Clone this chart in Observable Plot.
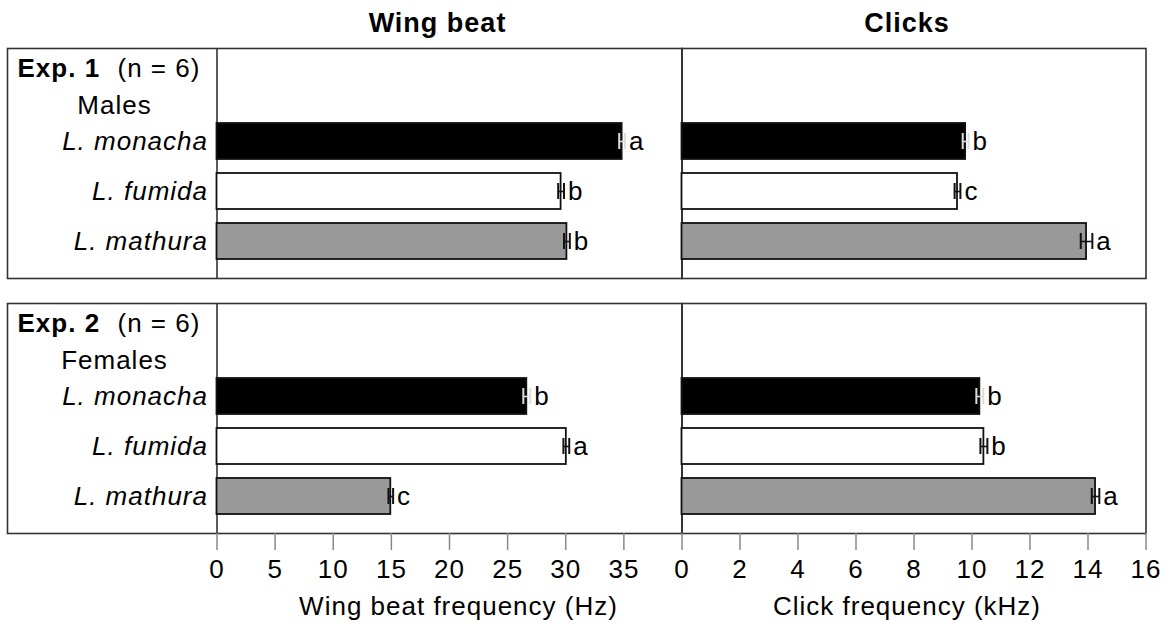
<!DOCTYPE html>
<html><head><meta charset="utf-8">
<script src="https://cdn.jsdelivr.net/npm/d3@7"></script>
<script src="https://cdn.jsdelivr.net/npm/@observablehq/plot@0.6"></script>
<style>
body{margin:0;background:#fff;}
#wrap{position:relative;width:1169px;height:629px;overflow:hidden;}
#wrap svg{position:absolute;top:0;}
</style></head><body><div id="wrap"></div>
<script>
// ---- data ----
const experiments = ["Exp. 1", "Exp. 2"];
const nLabels = ["(n = 6)", "(n = 6)"];
const sexes = ["Males", "Females"];
const species = ["L. monacha", "L. fumida", "L. mathura"];
const wingMean = [[34.85, 29.6, 30.1], [26.65, 30.05, 14.95]];
const wingSE = [[0.25, 0.25, 0.25], [0.3, 0.25, 0.2]];
const wingLetters = [["a", "b", "b"], ["b", "a", "c"]];
const clickMean = [[9.78, 9.5, 13.95], [10.27, 10.41, 14.26]];
const clickSE = [[0.1, 0.1, 0.2], [0.12, 0.12, 0.13]];
const clickLetters = [["b", "c", "a"], ["b", "b", "a"]];
const wingTicks = [0, 5, 10, 15, 20, 25, 30, 35];
const clickTicks = [0, 2, 4, 6, 8, 10, 12, 14, 16];
const panelTitles = ["Wing beat", "Clicks"];
const axisLabels = ["Wing beat frequency (Hz)", "Click frequency (kHz)"];

function rows(means, ses, letters) {
  const out = [];
  experiments.forEach((e, i) => species.forEach((s, j) =>
    out.push({exp: e, species: s, value: means[i][j], se: ses[i][j], letter: letters[i][j]})));
  return out;
}
const wingData = rows(wingMean, wingSE, wingLetters);
const clickData = rows(clickMean, clickSE, clickLetters);
const headData = experiments.map((e, i) => ({exp: e, n: nLabels[i], sex: sexes[i]}));

const FONT = "Liberation Sans, Arial, Helvetica, sans-serif";
const FS = 26;

function panel({data, domain, ticks, title, axisLabel, width, marginLeft, marginRight, left, titleDx, labelDx, withLabels}) {
  const dark = data.filter(d => d.species === species[0]);
  const light = data.filter(d => d.species !== species[0]);
  const errMarks = (arr, color) => [
    Plot.ruleY(arr, {y: "species", fy: "exp", x1: d => d.value - d.se, x2: d => d.value + d.se, stroke: color, strokeWidth: 1.6}),
    Plot.tickX(arr, {y: "species", fy: "exp", x: d => d.value - d.se, stroke: color, strokeWidth: 2, insetTop: 10, insetBottom: 10}),
    Plot.tickX(arr, {y: "species", fy: "exp", x: d => d.value + d.se, stroke: color, strokeWidth: 2, insetTop: 10, insetBottom: 10})
  ];
  const marks = [
    Plot.frame({stroke: "#333", strokeWidth: 1.6, insetLeft: withLabels ? -(marginLeft - 7) : 0}),
    Plot.ruleX([0], {stroke: "#333", strokeWidth: 1.6}),
    Plot.barX(data, {y: "species", fy: "exp", x: "value", fill: "species", stroke: "#111", strokeWidth: 1.8}),
    ...errMarks(dark, "#ddd"),
    ...errMarks(light, "#111"),
    Plot.text(data, {y: "species", fy: "exp", x: d => d.value + d.se, text: "letter", textAnchor: "start", dx: 4, fontSize: FS, fill: "#000"}),
    Plot.axisX({ticks, tickSize: 17, tickPadding: 9, fontSize: FS, stroke: "#888", strokeWidth: 1.5, label: null, tickFormat: d => String(d)}),
    Plot.text([{exp: experiments[0], t: title}], {fy: "exp", text: "t", frameAnchor: "top", lineAnchor: "middle", dy: -25, dx: titleDx, fontSize: 27, fontWeight: "bold"}),
    Plot.text([{exp: experiments[1], t: axisLabel}], {fy: "exp", text: "t", frameAnchor: "bottom", lineAnchor: "middle", dy: 73, dx: labelDx, fontSize: FS})
  ];
  if (withLabels) {
    marks.push(
      Plot.axisY({tickSize: 0, tickPadding: 9, fontSize: FS, fontStyle: "italic", label: null}),
      Plot.text(headData, {fy: "exp", text: "exp", frameAnchor: "top-left", lineAnchor: "middle", textAnchor: "start", dx: 17 - marginLeft, dy: 20, fontSize: FS, fontWeight: "bold"}),
      Plot.text(headData, {fy: "exp", text: "n", frameAnchor: "top-left", lineAnchor: "middle", textAnchor: "start", dx: 117 - marginLeft, dy: 20, fontSize: FS}),
      Plot.text(headData, {fy: "exp", text: "sex", frameAnchor: "top-left", lineAnchor: "middle", textAnchor: "middle", dx: 114 - marginLeft, dy: 57, fontSize: FS})
    );
  }
  const svg = Plot.plot({
    width, height: 629,
    marginTop: 48, marginBottom: 95, marginLeft, marginRight,
    style: {background: "none", overflow: "visible", fontFamily: FONT, fontSize: FS + "px", color: "#000", letterSpacing: "1px"},
    x: {domain, axis: null},
    y: {domain: species, paddingInner: 0.28, paddingOuter: 0.935, align: 0.8, axis: null},
    fy: {domain: experiments, paddingInner: 0.098, paddingOuter: 0, axis: null},
    color: {domain: species, range: ["#000000", "#ffffff", "#999999"]},
    marks
  });
  svg.style.left = left + "px";
  svg.style.position = "absolute";
  svg.style.maxWidth = "none";
  return svg;
}

const wrap = document.getElementById("wrap");
wrap.appendChild(panel({data: wingData, domain: [0, 40], ticks: wingTicks, title: panelTitles[0], axisLabel: axisLabels[0],
  width: 684, marginLeft: 216.5, marginRight: 2.5, left: 0, titleDx: -12, labelDx: 9, withLabels: true}));
wrap.appendChild(panel({data: clickData, domain: [0, 16], ticks: clickTicks, title: panelTitles[1], axisLabel: axisLabels[1],
  width: 509, marginLeft: 21.5, marginRight: 23.5, left: 660, titleDx: -7, labelDx: -7, withLabels: false}));
</script>
</body></html>
